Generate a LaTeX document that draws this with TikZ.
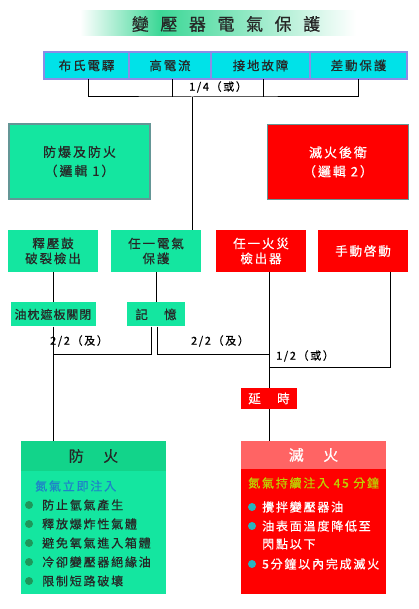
\documentclass[tikz,border=0pt]{standalone}
\usepackage{fontspec}
\usepackage{xcolor}
\setmainfont{Noto Sans CJK TC}
\newfontfamily\cjk[LetterSpace=15,FakeBold=0.6]{Noto Sans CJK TC}
\newfontfamily\cjktight[LetterSpace=8,FakeBold=0.6]{Noto Sans CJK TC}
\newfontfamily\cjktitle[LetterSpace=68,FakeBold=0.6]{Noto Sans CJK TC}
\usetikzlibrary{positioning}
\definecolor{boxgreen}{RGB}{20,230,160}
\definecolor{headgreen}{RGB}{18,212,138}
\definecolor{boxred}{RGB}{255,0,0}
\definecolor{headred}{RGB}{255,100,100}
\definecolor{barcyan}{RGB}{0,226,232}
\definecolor{barline}{RGB}{140,140,230}
\definecolor{rimgray}{RGB}{100,150,150}
\definecolor{titlegreen}{RGB}{60,215,150}
\definecolor{noteblue}{RGB}{30,130,200}
\definecolor{noteyellow}{RGB}{190,210,0}
\definecolor{dotgreen}{RGB}{30,150,90}
\definecolor{dotteal}{RGB}{40,180,190}

\begin{document}
\begin{tikzpicture}[x=1pt, y=-1pt,
        title/.style={inner sep=0pt, font=\cjktitle\fontsize{17}{20}\selectfont, text=black!85},
        cell/.style={rectangle, draw=barline, line width=1.5pt, fill=barcyan, minimum height=27pt, inner sep=0pt, outer sep=0pt, font=\cjk\fontsize{12.5}{15}\selectfont, text=black!85},
        logic/.style={rectangle, draw=rimgray, line width=1.5pt, minimum width=141pt, minimum height=75pt, align=center, font=\cjk\fontsize{13}{19}\selectfont},
        gbox/.style={rectangle, fill=boxgreen, inner sep=0pt, align=center, font=\cjk\fontsize{12.5}{15}\selectfont, text=black!85},
        rbox/.style={rectangle, fill=boxred, inner sep=0pt, align=center, font=\cjk\fontsize{12.5}{15}\selectfont, text=white},
        gate/.style={inner sep=0pt, font=\cjk\fontsize{11}{13}\selectfont},
        panelhead/.style={rectangle, inner sep=0pt, minimum width=145pt, font=\cjk\fontsize{15}{18}\selectfont},
        panelbody/.style={rectangle, inner sep=0pt, minimum width=145pt},
        item/.style={anchor=west, inner sep=0pt, font=\cjk\fontsize{12}{14}\selectfont},
        dot/.style={circle, inner sep=0pt, minimum size=8pt},
        wire/.style={line width=1pt, black},
      ]
      \useasboundingbox (0,0) rectangle (418,609);
      \shade [left color=white, right color=titlegreen] (80,11) rectangle (160,36);
      \shade [left color=titlegreen, right color=titlegreen!30] (160,11) rectangle (300,36);
      \shade [left color=titlegreen!30, right color=white] (300,11) rectangle (356,36);
      \node [title] (heading) at (226,24) {變壓器電氣保護};
      \node [cell, minimum width=85pt] (buchholz) at (86.5,65.5) {布氏電驛};
      \node [cell, minimum width=82pt, right=0pt of buchholz] (overcurrent) {高電流};
      \node [cell, minimum width=99pt, right=0pt of overcurrent] (earthfault) {接地故障};
      \node [cell, minimum width=97pt, right=0pt of earthfault] (differential) {差動保護};
      \coordinate (bus) at (192,97);
      \node [gate] (anyfour) at (218,87) {1/4（或）};
      \node [logic, fill=boxgreen, text=black!85] (logicone) at (79.5,161.5) {防爆及防火\\（邏輯 1）};
      \node [logic, fill=boxred, text=white] (logictwo) at (338,162) {滅火後衛\\（邏輯 2）};
      \node [gbox, minimum width=90pt, minimum height=42pt] (relief) at (53,251) {釋壓鼓\\破裂檢出};
      \node [gbox, minimum width=90pt, minimum height=42pt] (anyelec) at (156,251) {任一電氣\\保護};
      \node [rbox, minimum width=90pt, minimum height=42pt] (anyfire) at (261,251) {任一火災\\檢出器};
      \node [rbox, minimum width=90pt, minimum height=42pt] (manual) at (363,251) {手動啓動};
      \node [gbox, minimum width=85pt, minimum height=24pt, font=\cjktight\fontsize{12}{14}\selectfont, below=30pt of relief] (oilflap) {油枕遮板關閉};
      \node [gbox, minimum width=58pt, minimum height=24pt, below=30pt of anyelec] (memory) {記　憶};
      \node [gate] (andone) at (79,341) {2/2（及）};
      \node [gate] (andtwo) at (220,341) {2/2（及）};
      \node [gate] (oneoftwo) at (305,356) {1/2（或）};
      \node [rbox, minimum width=56pt, minimum height=21pt] (delay) at (269,398.5) {延　時};
      \node [panelhead, fill=headgreen, minimum height=30pt, text=black!85] (fireprot) at (93.5,456) {防　火};
      \node [panelbody, fill=boxgreen, minimum height=123pt, below=0pt of fireprot] (firebody) {};
      \node [panelhead, fill=headred, minimum height=28pt, text=white] (extinguish) at (313.5,455) {滅　火};
      \node [panelbody, fill=boxred, minimum height=125pt, below=0pt of extinguish] (extbody) {};
      \node [item, text=noteblue] (nitroone) at (35,486) {氮氣立即注入};
      \node [dot, fill=dotgreen] (gdota) at (29,505) {};
      \node [item, text=black!85] (pointa) at (42,505) {防止氫氣產生};
      \node [dot, fill=dotgreen] (gdotb) at (29,524) {};
      \node [item, text=black!85] (pointb) at (42,524) {釋放爆炸性氣體};
      \node [dot, fill=dotgreen] (gdotc) at (29,543) {};
      \node [item, text=black!85] (pointc) at (42,543) {避免氧氣進入箱體};
      \node [dot, fill=dotgreen] (gdotd) at (29,562) {};
      \node [item, text=black!85] (pointd) at (42,562) {冷卻變壓器絕緣油};
      \node [dot, fill=dotgreen] (gdote) at (29,581) {};
      \node [item, text=black!85] (pointe) at (42,581) {限制短路破壞};
      \node [item, text=noteyellow] (nitrotwo) at (248,483) {氮氣持續注入 45 分鐘};
      \node [dot, fill=dotteal] (tdota) at (252,507) {};
      \node [item, text=white] (stepa) at (262,507) {攪拌變壓器油};
      \node [dot, fill=dotteal] (tdotb) at (252,526) {};
      \node [item, text=white] (stepb) at (262,526) {油表面溫度降低至};
      \node [item, text=white] (stepbb) at (262,544) {閃點以下};
      \node [dot, fill=dotteal] (tdotc) at (252,564) {};
      \node [item, text=white] (stepc) at (262,564) {5分鐘以內完成滅火};
      \coordinate (joinand) at (oilflap.south |- 0,354);
      \coordinate (joinfire) at (delay.north |- 0,354);
      \coordinate (joinor) at (delay.north |- 0,367);
      \draw [wire] ([xshift=2pt]buchholz.south) |- (bus) -| (differential.south);
      \draw [wire] ([xshift=2pt]overcurrent.south) -- ([xshift=2pt]overcurrent.south |- bus);
      \draw [wire] ([xshift=3pt]earthfault.south) -- ([xshift=3pt]earthfault.south |- bus);
      \draw [wire] (bus) -- (bus |- anyelec.north);
      \draw [wire] (relief) -- (oilflap);
      \draw [wire] (anyelec) -- (memory);
      \draw [wire] (oilflap.south) -- (oilflap.south |- fireprot.north);
      \draw [wire] ([xshift=-5pt]memory.south) |- (joinand);
      \draw [wire] ([xshift=1pt]memory.south) |- (joinfire);
      \draw [wire] (delay.north |- anyfire.south) -- (delay.north);
      \draw [wire] ([xshift=27pt]manual.south) |- (joinor);
      \draw [wire] (delay.south) -- (delay.south |- extinguish.north);
    \end{tikzpicture}
\end{document}
